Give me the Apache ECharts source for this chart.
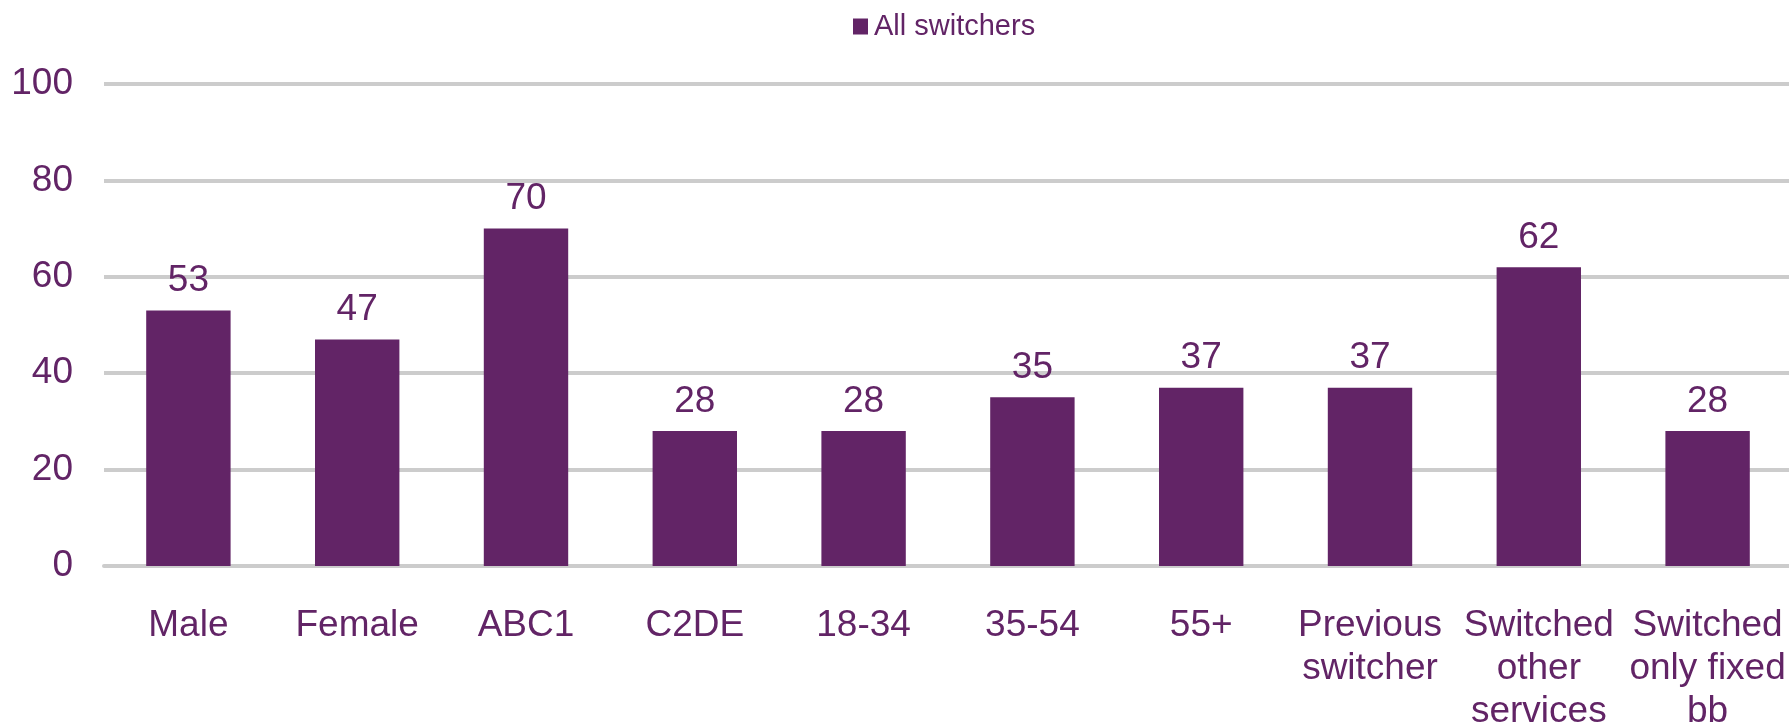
<!DOCTYPE html>
<html>
<head>
<meta charset="utf-8">
<script src="https://cdn.jsdelivr.net/npm/echarts@6/dist/echarts.min.js"></script>
<style>
  html, body { margin: 0; padding: 0; background: #ffffff; }
  #chart { width: 1789px; height: 723px; }
</style>
</head>
<body>
<div id="chart"></div>
<script>
var categories = ["Male", "Female", "ABC1", "C2DE", "18-34", "35-54", "55+", "Previous\nswitcher", "Switched\nother\nservices", "Switched\nonly fixed\nbb"];
var seriesName = "All switchers";
var values = [53, 47, 70, 28, 28, 35, 37, 37, 62, 28];
var yTicks = { min: 0, max: 100, interval: 20 };

var purple = "#622466";
var font = "'Liberation Sans', Arial, sans-serif";

var chart = echarts.init(document.getElementById('chart'), null, { renderer: 'canvas' });
chart.setOption({
  backgroundColor: '#ffffff',
  animation: false,
  legend: {
    data: [seriesName],
    top: 7,
    left: 848,
    itemWidth: 15,
    itemHeight: 16,
    icon: 'rect',
    itemGap: 10,
    textStyle: { color: purple, fontFamily: font, fontSize: 29, padding: [0, 0, 0, 1] }
  },
  grid: { left: 104, width: 1688, top: 84, bottom: 157, containLabel: false, outerBoundsMode: 'none' },
  xAxis: {
    type: 'category',
    data: categories,
    axisTick: { show: false },
    axisLine: { show: true, lineStyle: { color: '#cccccc', width: 4 } },
    axisLabel: {
      interval: 0,
      color: purple,
      fontFamily: font,
      fontSize: 37,
      lineHeight: 43,
      margin: 38
    }
  },
  yAxis: {
    type: 'value',
    min: yTicks.min,
    max: yTicks.max,
    interval: yTicks.interval,
    axisLine: { show: false },
    axisTick: { show: false },
    splitLine: { lineStyle: { color: '#cccccc', width: 4 } },
    axisLabel: { color: purple, fontFamily: font, fontSize: 37, margin: 31 }
  },
  series: [{
    name: seriesName,
    type: 'bar',
    data: values,
    barWidth: '50%',
    itemStyle: { color: purple },
    label: {
      show: true,
      position: 'top',
      distance: 11,
      color: purple,
      fontFamily: font,
      fontSize: 37
    }
  }]
});
</script>
</body>
</html>
